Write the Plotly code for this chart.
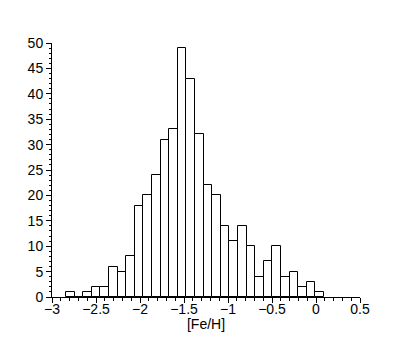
import numpy as np
import plotly.graph_objects as go

# Histogram of [Fe/H]: 30 equal-width bins spanning the data range
feh_min = -2.84
feh_max = 0.09
counts = [1, 0, 1, 2, 2, 6, 5, 8, 18, 20,
          24, 31, 33, 49, 43, 32, 22, 20, 14, 11,
          14, 10, 4, 7, 10, 4, 5, 2, 3, 1]

x_ticks = [-3, -2.5, -2, -1.5, -1, -0.5, 0, 0.5]
y_ticks = [0, 5, 10, 15, 20, 25, 30, 35, 40, 45, 50]

edges = np.linspace(feh_min, feh_max, len(counts) + 1)
centers = (edges[:-1] + edges[1:]) / 2
width = edges[1] - edges[0]

fig = go.Figure(go.Bar(
    x=centers, y=counts, width=width,
    marker=dict(color="white", line=dict(color="black", width=1)),
    showlegend=False,
))

font = dict(family="Liberation Sans, Arial, sans-serif", size=14, color="black")

fig.update_layout(
    width=399, height=324,
    margin=dict(l=44, r=47, t=35, b=35),
    paper_bgcolor="white", plot_bgcolor="white",
    font=font,
    bargap=0,
    xaxis=dict(
        range=[-3, 0.5], tickvals=x_ticks, ticks="outside", ticklen=5,
        tickcolor="black", showline=True, linecolor="black", linewidth=1,
        showgrid=False, zeroline=False, automargin=False,
        minor=dict(dtick=0.1, tick0=0, ticks="outside", ticklen=3, tickcolor="black"),
        title=dict(text="[Fe/H]", standoff=0, font=font),
        tickfont=font, ticklabelstandoff=-6,
    ),
    yaxis=dict(
        range=[0, 50], tickvals=y_ticks, ticks="outside", ticklen=5,
        tickcolor="black", showline=True, linecolor="black", linewidth=1,
        showgrid=False, zeroline=False, automargin=False,
        minor=dict(dtick=1, tick0=0, ticks="outside", ticklen=2, tickcolor="black"),
        tickfont=font, ticklabelstandoff=0,
    ),
)

fig.write_html("out.html")
